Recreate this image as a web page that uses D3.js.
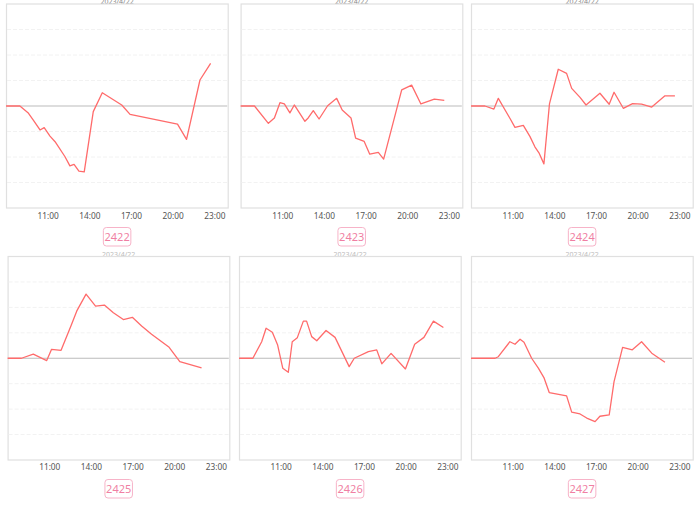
<!DOCTYPE html>
<html><head><meta charset="utf-8">
<script src="https://cdn.jsdelivr.net/npm/d3@7"></script>
<style>body{margin:0;background:#fff;}svg{display:block;font-family:"Noto Sans",Lato,sans-serif;}</style>
</head><body>
<svg id="c" width="700" height="505"></svg>
<script>
// ---- data ----
const ids = ["2422","2423","2424","2425","2426","2427"];
const titles = ["2023/4/22","2023/4/22","2023/4/22","2023/4/22","2023/4/22","2023/4/22"];
const xTicks = ["11:00","14:00","17:00","20:00","23:00"];
const yTicks = [-4,-3,-2,-1,0,1,2,3,4];

const t2422 = ["08:00","09:00","09:35","09:58","10:27","10:45","11:10","11:32","12:15","12:36","12:54","13:15","13:38","14:17","14:56","16:20","16:56","20:21","21:00","21:58","22:44"];
const v2422 = [0,0,-0.26,-0.55,-0.94,-0.85,-1.18,-1.4,-1.99,-2.35,-2.29,-2.55,-2.58,-0.22,0.52,0.04,-0.33,-0.71,-1.31,1.02,1.67];

const t2423 = ["08:00","09:00","10:00","10:26","10:50","11:09","11:33","11:52","12:38","12:52","13:14","13:39","14:16","14:55","15:19","15:57","16:17","16:54","17:18","17:55","18:18","19:36","20:19","20:59","21:57","22:40"];
const v2423 = [0,0,-0.68,-0.47,0.13,0.08,-0.27,0.04,-0.6,-0.47,-0.18,-0.51,0.01,0.30,-0.16,-0.47,-1.26,-1.39,-1.89,-1.82,-2.08,0.63,0.82,0.08,0.27,0.22];

const t2424 = ["08:00","09:00","09:39","09:58","10:48","11:10","11:46","12:15","12:36","12:55","13:15","13:39","14:17","14:53","15:15","15:51","16:17","17:17","17:57","18:18","18:58","19:38","20:17","21:01","21:58","22:41"];
const v2424 = [0,0,-0.12,0.30,-0.48,-0.84,-0.76,-1.20,-1.60,-1.86,-2.27,0.08,1.44,1.28,0.69,0.34,0.04,0.50,0.07,0.54,-0.09,0.09,0.07,-0.04,0.40,0.40];

const t2425 = ["08:00","09:00","09:51","10:49","11:10","11:51","12:34","12:59","13:39","14:20","14:58","15:37","16:20","16:59","17:39","18:22","19:38","20:24","21:58"];
const v2425 = [0,0,0.16,-0.09,0.35,0.31,1.28,1.86,2.52,2.05,2.09,1.79,1.52,1.61,1.27,0.94,0.43,-0.13,-0.38];

const t2426 = ["08:00","09:00","09:38","09:57","10:24","10:47","11:09","11:33","11:50","12:12","12:38","12:52","13:14","13:36","14:16","14:55","15:56","16:18","17:19","17:55","18:17","18:57","19:59","20:39","21:19","22:00","22:43"];
const v2426 = [0,0,0.65,1.18,1.02,0.52,-0.39,-0.55,0.65,0.81,1.46,1.46,0.85,0.69,1.09,0.82,-0.33,0,0.26,0.33,-0.22,0.19,-0.42,0.55,0.82,1.46,1.21];

const t2427 = ["08:00","09:44","09:58","10:48","11:10","11:32","11:49","12:22","12:51","13:15","13:38","14:53","15:15","15:51","16:20","16:56","17:17","17:57","18:18","18:55","19:37","20:17","21:01","21:58"];
const v2427 = [0,0,0.06,0.65,0.55,0.75,0.63,0,-0.39,-0.76,-1.35,-1.48,-2.12,-2.19,-2.35,-2.49,-2.28,-2.23,-0.92,0.43,0.33,0.65,0.2,-0.16];

const times = [t2422,t2423,t2424,t2425,t2426,t2427];
const values = [v2422,v2423,v2424,v2425,v2426,v2427];

// ---- layout ----
const svg = d3.select("#c");
const parse = s => { const [h,m] = s.split(":").map(Number); return h + m/60; };
const lefts = [6, 240.6, 471.0, 7.6, 239.0, 471.0];
const rows = [{top:4, bottom:208, tick:215.7, badge:227.5, title:3.5},
              {top:256.5, bottom:460, tick:467.5, badge:479.5, title:256.5}];
const W = 222.2;

ids.forEach((id, i) => {
  const row = rows[i < 3 ? 0 : 1];
  const left = lefts[i];
  const x = d3.scaleLinear().domain([8, 24]).range([left, left + W]);
  const y = d3.scaleLinear().domain([-4, 4]).range([row.bottom, row.top]);
  const g = svg.append("g");

  // title (mostly hidden behind the panel / page edge)
  g.append("text").attr("x", left + W/2).attr("y", row.title)
    .attr("text-anchor", "middle").attr("font-size", 7).attr("fill", i < 3 ? "#888" : "#bbb")
    .text(titles[i]);

  // panel box
  g.append("rect").attr("x", left + 0.5).attr("y", row.top)
    .attr("width", W - 0.5).attr("height", row.bottom - row.top)
    .attr("fill", "#fff").attr("stroke", "#e0e0e0").attr("stroke-width", 1.2);

  // grid
  g.selectAll(".grid").data(yTicks.filter(v => v !== 0 && Math.abs(v) < 4)).enter()
    .append("line")
    .attr("x1", left + 1).attr("x2", left + W - 1)
    .attr("y1", d => y(d)).attr("y2", d => y(d))
    .attr("stroke", "#f2f2f2").attr("stroke-width", 1).attr("stroke-dasharray", "4,2");

  // zero line
  g.append("line").attr("x1", left + 1).attr("x2", left + W - 1)
    .attr("y1", y(0)).attr("y2", y(0)).attr("stroke", "#bbbbbb").attr("stroke-width", 1.2);

  // x axis labels
  const ax = d3.axisBottom(x).tickValues(xTicks.map(parse))
    .tickFormat((d, k) => xTicks[k]).tickSize(0).tickPadding(0);
  const axg = g.append("g").attr("transform", `translate(0,${row.bottom})`).call(ax);
  axg.select(".domain").remove();
  axg.selectAll("text").attr("y", row.tick - row.bottom).attr("dy", "0.35em")
    .attr("font-size", 8.3).attr("fill", "#555").attr("font-family", "Noto Sans, sans-serif");

  // line
  const pts = times[i].map((t, k) => [parse(t), values[i][k]]);
  g.append("path").datum(pts)
    .attr("d", d3.line().x(d => x(d[0])).y(d => y(d[1])))
    .attr("fill", "none").attr("stroke", "#ff6b6b").attr("stroke-width", 1.3)
    .attr("stroke-linejoin", "round");

  // badge
  const cx = left + W/2;
  g.append("rect").attr("x", cx - 13.75).attr("y", row.badge)
    .attr("width", 27.5).attr("height", 18.5).attr("rx", 3)
    .attr("fill", "#fff").attr("stroke", "#f7b3c8").attr("stroke-width", 1);
  g.append("text").attr("x", cx).attr("y", row.badge + 9.5).attr("dy", "0.35em")
    .attr("text-anchor", "middle").attr("font-size", 11).attr("fill", "#f07fa3")
    .text(id);
});
</script>
</body></html>
